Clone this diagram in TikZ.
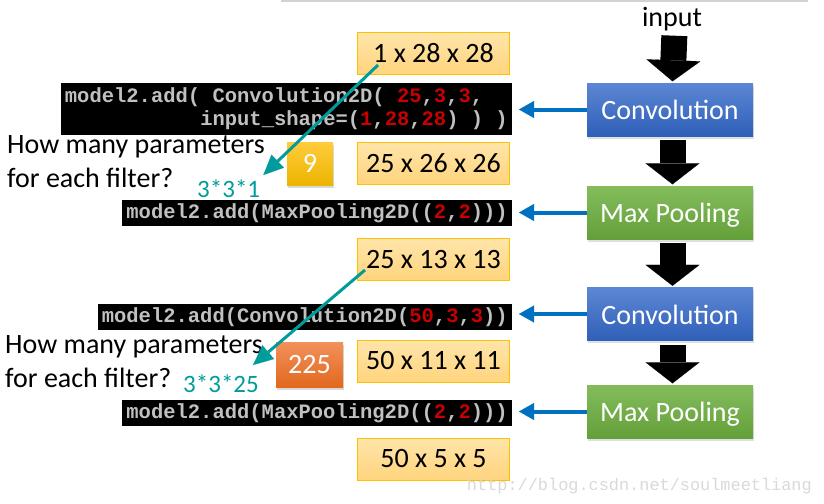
\documentclass[tikz,border=0pt]{standalone}
\usepackage{fontspec}
\setmainfont{Carlito}
\newfontfamily\codefont{Liberation Mono}
\usetikzlibrary{arrows.meta, shadows}
\definecolor{boxtop}{RGB}{255,229,170}
\definecolor{boxbot}{RGB}{255,212,125}
\definecolor{boxedge}{RGB}{255,192,0}
\definecolor{convtop}{RGB}{92,135,212}
\definecolor{convbot}{RGB}{47,95,184}
\definecolor{pooltop}{RGB}{132,188,92}
\definecolor{poolbot}{RGB}{100,160,58}
\definecolor{codegray}{RGB}{192,192,192}
\definecolor{codered}{RGB}{200,0,0}
\definecolor{linkblue}{RGB}{0,112,192}
\definecolor{hintteal}{RGB}{0,155,155}
\definecolor{goldtop}{RGB}{255,204,60}
\definecolor{goldbot}{RGB}{236,180,0}
\definecolor{orangetop}{RGB}{242,145,90}
\definecolor{orangebot}{RGB}{226,104,30}

\begin{document}
\begin{tikzpicture}[x = 1pt, y = -1pt,
        big/.style = {font = \fontsize{28}{34}\selectfont},
        size/.style = {big, draw = boxedge, line width = 1pt, top color = boxtop, bottom color = boxbot, minimum width = 152pt, minimum height = 42pt, inner sep = 0pt},
        layer/.style = {big, text = white, minimum width = 166pt, minimum height = 53pt, text height = 20pt, text depth = 0pt, inner sep = 0pt, drop shadow = {shadow xshift = 0.5pt, shadow yshift = -2.5pt, opacity = 0.25}},
        conv/.style = {layer, top color = convtop, bottom color = convbot},
        pool/.style = {layer, top color = pooltop, bottom color = poolbot},
        code/.style = {fill = black, text = codegray, anchor = east, align = left, inner xsep = 4pt, inner ysep = 0pt, minimum height = 26pt, font = \codefont\bfseries\fontsize{20.5}{23}\selectfont},
        answer/.style = {big, text = white, inner sep = 0pt, drop shadow = {shadow xshift = 1pt, shadow yshift = -2.5pt, opacity = 0.3}},
        formula/.style = {text = hintteal, anchor = base west, inner sep = 0pt, font = \fontsize{25}{30}\selectfont},
        question/.style = {big, anchor = base west, align = left, inner sep = 0pt},
        flow/.style = {line width = 26pt, -{Triangle[length = 21pt, width = 54pt, line width = 0.1pt]}, shorten <= 4pt, shorten >= 1.5pt},
        link/.style = {draw = linkblue, line width = 4pt, -{Triangle[length = 15pt, width = 17pt, line width = 0.1pt]}, shorten >= 7pt},
        hint/.style = {draw = hintteal, line width = 3pt, -{Triangle[length = 20pt, width = 18pt, line width = 0.1pt]}}]
        \useasboundingbox (0, 0) rectangle (824, 503);
        \draw[gray!35, line width = 1.5pt] (281, 1) -- (808, 1);

        \node[big, anchor = base, inner sep = 0pt] (input) at (672, 27) {input};
        \node[conv] (conv1) at (670, 109.5) {Convolution};
        \node[pool] (pool1) at (670, 212.5) {Max Pooling};
        \node[conv] (conv2) at (670, 314) {Convolution};
        \node[pool] (pool2) at (670, 411.5) {Max Pooling};

        \node[size] (s0) at (433.5, 53.5) {1 x 28 x 28};
        \node[size] (s1) at (433.5, 163) {25 x 26 x 26};
        \node[size] (s2) at (433.5, 259.5) {25 x 13 x 13};
        \node[size] (s3) at (433.5, 361) {50 x 11 x 11};
        \node[size] (s4) at (433.5, 459) {50 x 5 x 5};

        \node[code, minimum height = 52pt] (c1) at (512, 109) {model2.add( Convolution2D( \textcolor{codered}{25},\textcolor{codered}{3},\textcolor{codered}{3},\\\phantom{model2.add(}input\_shape=(\textcolor{codered}{1},\textcolor{codered}{28},\textcolor{codered}{28}) ) )};
        \node[code] (c2) at (512, 213) {model2.add(MaxPooling2D((\textcolor{codered}{2},\textcolor{codered}{2})))};
        \node[code] (c3) at (512, 317) {model2.add(Convolution2D(\textcolor{codered}{50},\textcolor{codered}{3},\textcolor{codered}{3}))};
        \node[code] (c4) at (512, 413) {model2.add(MaxPooling2D((\textcolor{codered}{2},\textcolor{codered}{2})))};

        \node[question] (q1) at (7, 187) {How many parameters\\for each filter?};
        \node[question] (q2) at (5, 387) {How many parameters\\for each filter?};
        \node[formula] (p1) at (197, 197) {3*3*1};
        \node[formula] (p2) at (183, 392) {3*3*25};
        \node[answer, minimum width = 46pt, minimum height = 43pt, top color = goldtop, bottom color = goldbot] (a1) at (310, 163.5) {9};
        \node[answer, minimum width = 67pt, minimum height = 45pt, top color = orangetop, bottom color = orangebot] (a2) at (309.5, 364.5) {225};

        \node[anchor = base east, inner sep = 0pt, text = gray!30, font = \codefont\fontsize{16.9}{20}\selectfont] (url) at (812, 490) {http://blog.csdn.net/soulmeetliang};

        \draw[flow] ([xshift = 2.5pt]input.south) -- ([xshift = 2.5pt]conv1.north);
        \draw[flow] ([xshift = 2.5pt]conv1.south) -- ([xshift = 2.5pt]pool1.north);
        \draw[flow] ([xshift = 2.5pt]pool1.south) -- ([xshift = 2.5pt]conv2.north);
        \draw[flow] ([xshift = 2.5pt]conv2.south) -- ([xshift = 2.5pt]pool2.north);

        \draw[link] (conv1.west) -- (conv1.west -| c1.east);
        \draw[link] (pool1.west) -- (pool1.west -| c2.east);
        \draw[link] (conv2.west) -- (conv2.west -| c3.east);
        \draw[link] (pool2.west) -- (pool2.west -| c4.east);

        \draw[hint] ([xshift = 21pt, yshift = 10pt]s0.south west) -- ([xshift = 3pt, yshift = 4pt]p1.north east);
        \draw[hint] ([xshift = 8pt, yshift = 11pt]s2.south west) -- ([xshift = -6pt, yshift = 9pt]p2.north east);
    \end{tikzpicture}
\end{document}
